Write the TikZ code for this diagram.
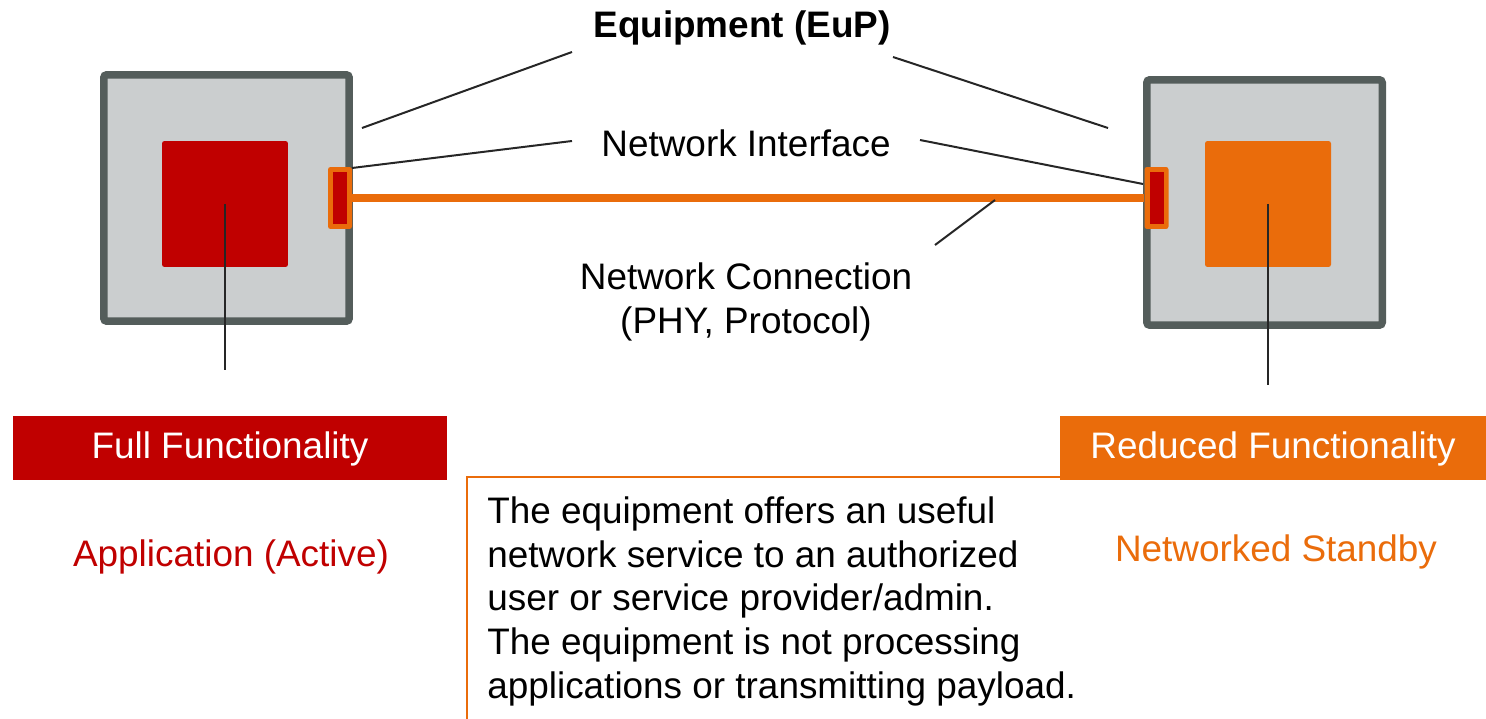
\documentclass[tikz,border=0pt]{standalone}
\usepackage{fontspec}
\setmainfont{Liberation Sans}
\definecolor{eupred}{HTML}{C00000}
\definecolor{euporange}{HTML}{EA6C0B}
\definecolor{eupgray}{HTML}{CBCECF}
\definecolor{eupframe}{HTML}{545D5B}
\tikzset{
  equip/.style={rectangle, draw=eupframe, fill=eupgray, line width=0.15cm, rounded corners=0.06cm},
  core/.style={rectangle, minimum width=2.52cm, minimum height=2.52cm, rounded corners=0.05cm, inner sep=0},
  iface/.style={rectangle, fill=euporange, minimum width=0.48cm, minimum height=1.24cm, rounded corners=0.05cm, inner sep=0},
  ifcore/.style={rectangle, fill=eupred, minimum width=0.28cm, minimum height=1.04cm, inner sep=0},
  lbl/.style={inner sep=0, font=\fontsize{21}{25.5}\selectfont, align=center},
  banner/.style={rectangle, minimum height=1.28cm, inner sep=0, text depth=0.35em, text=white, font=\fontsize{21}{25}\selectfont},
  lead/.style={draw=black!85, line width=0.04cm}
}
\begin{document}
\begin{tikzpicture}[x=0.02cm, y=-0.02cm]
		\useasboundingbox (0,0) rectangle (1486,719);
		% equipment boxes
		\node [equip, minimum width=4.91cm, minimum height=4.93cm] (eq1) at (226.5,198) {};
		\node [equip, minimum width=4.71cm, minimum height=4.91cm] (eq2) at (1264.5,202.5) {};
		\node [core, fill=eupred] (c1) at (225,204) {};
		\node [core, fill=euporange] (c2) at (1268,204) {};
		% interfaces and cable
		\node [iface] (if1) at (340,198) {};
		\node [ifcore] (ic1) at (340,198) {};
		\node [iface] (if2) at (1156.5,198) {};
		\node [ifcore] (ic2) at (1156.5,198) {};
		\draw [euporange, line width=0.16cm] (if1.east) -- (if2.west);
		% labels
		\node [lbl, font=\fontsize{21}{25.5}\selectfont\bfseries] (eup) at (742,28) {Equipment (EuP)};
		\node [lbl] (nif) at (746,143) {Network Interface};
		\node [lbl] (ncon) at (746,302) {Network Connection\\(PHY, Protocol)};
		\coordinate (eupl) at (572,52);
		\coordinate (eupr) at (893,57);
		\coordinate (nifl) at (572,141);
		\coordinate (nifr) at (920,140);
		\coordinate (nconl) at (935,245);
		\coordinate (cable) at (995,200);
		\coordinate (eq1e) at (362,128);
		\coordinate (eq2w) at (1108,128);
		\coordinate (if1p) at (352,168);
		\coordinate (if2p) at (1143,184);
		\coordinate (c1d) at (225,370);
		\coordinate (c2d) at (1268,385);
		\path [lead]
					(eupl) edge (eq1e)
					(eupr) edge (eq2w)
					(nifl) edge (if1p)
					(nifr) edge (if2p)
					(nconl) edge (cable)
					(c1.center) edge (c1d)
					(c2.center) edge (c2d);
		% functionality banners
		\node [banner, fill=eupred, minimum width=8.68cm] (full) at (230,448) {Full Functionality};
		\node [banner, fill=euporange, minimum width=8.52cm] (red) at (1273,448) {Reduced Functionality};
		\node [lbl, text=eupred] (act) at (231,557) {Application (Active)};
		\node [lbl, text=euporange] (stby) at (1276,552) {Networked Standby};
		% description
		\coordinate (dtop) at (467,477);
		\coordinate (dbot) at (467,719);
		\draw [euporange, line width=0.04cm] (dbot) -- (dtop) -- (red.west |- dtop);
		\node [lbl, align=left, anchor=north west, font=\fontsize{21}{25}\selectfont] (desc) at (487,496)
			{The equipment offers an useful\\network service to an authorized\\user or service provider/admin.\\The equipment is not processing\\applications or transmitting payload.};
	\end{tikzpicture}
\end{document}
